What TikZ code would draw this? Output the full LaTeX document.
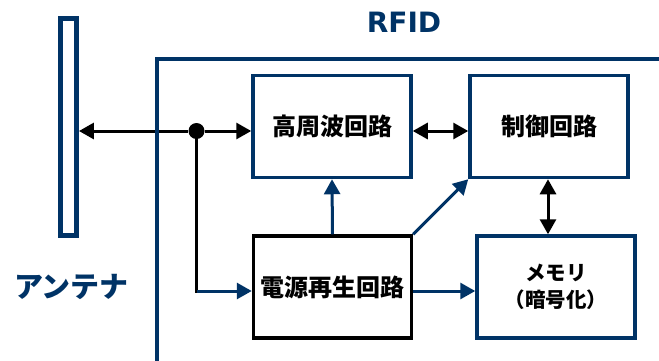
\documentclass[tikz,border=0pt]{standalone}
\usepackage{fontspec}
\newfontfamily\jpfont{Noto Sans CJK JP}
\newfontfamily\rfidfont{DejaVu Sans}
\usetikzlibrary{arrows.meta,positioning,calc}
\definecolor{rfidblue}{RGB}{0,51,102}

\begin{document}
\begin{tikzpicture}[x=1pt, y=-1pt,
    every node/.style={align=center, font=\jpfont\bfseries\fontsize{24}{27}\selectfont},
    blockbox/.style={draw=rfidblue, line width=3.5pt, minimum width=158pt, minimum height=102pt, inner sep=0pt},
    sig/.style={line width=3pt, black},
    pwr/.style={line width=3pt, rfidblue},
    tip/.style={-{Triangle[length=15pt,width=16pt]}},
    twotip/.style={{Triangle[length=15pt,width=16pt]}-{Triangle[length=15pt,width=16pt]}}]
    \useasboundingbox (0,0) rectangle (659,360);

    % antenna and labels
    \node[draw=rfidblue, line width=5pt, minimum width=15.7pt, minimum height=217pt, inner sep=0pt] (ant) at (68.6,127) {};
    \node[text=rfidblue, font=\jpfont\bfseries\fontsize{29}{31}\selectfont] (antlabel) at (71.5,287) {アンテナ};
    \node[text=rfidblue, font=\rfidfont\bfseries\fontsize{28}{30}\selectfont] (rfidlabel) at (404,22) {RFID};

    % blocks
    \node[blockbox] (hf) at (332,126.5) {高周波回路};
    \node[blockbox] (ctrl) at (549,126.5) {制御回路};
    \node[blockbox, draw=black] (pw) at (332.5,287) {電源再生回路};
    \node[blockbox, font=\jpfont\bfseries\fontsize{20.5}{27}\selectfont] (mem) at (556,287) {メモリ\\（暗号化）};

    \node[circle, fill=black, minimum size=16pt, inner sep=0pt] (dot) at (196.5,131) {};
    \coordinate (bend) at (196.5,291);

    % connectors
    \draw[sig, tip] (dot) -- (ant.east |- dot);
    \draw[sig, tip] (dot) -- (hf.west |- dot);
    \draw[sig, line cap=rect] (dot) -- (bend);
    \draw[pwr, tip] (bend) -- (pw.west |- bend);
    \draw[sig, twotip] (hf.east |- dot) -- (ctrl.west |- dot);
    \draw[sig, twotip] (ctrl.south -| 548,0) -- (mem.north -| 548,0);
    \draw[pwr, tip] (pw.north) -- (hf.south);
    \draw[pwr, tip] (pw.north east) -- (ctrl.south west);
    \draw[pwr, tip] (pw.east |- bend) -- (mem.west |- bend);

    % RFID frame
    \draw[rfidblue, line width=4.5pt] (157,365) |- (665,59);
\end{tikzpicture}
\end{document}
